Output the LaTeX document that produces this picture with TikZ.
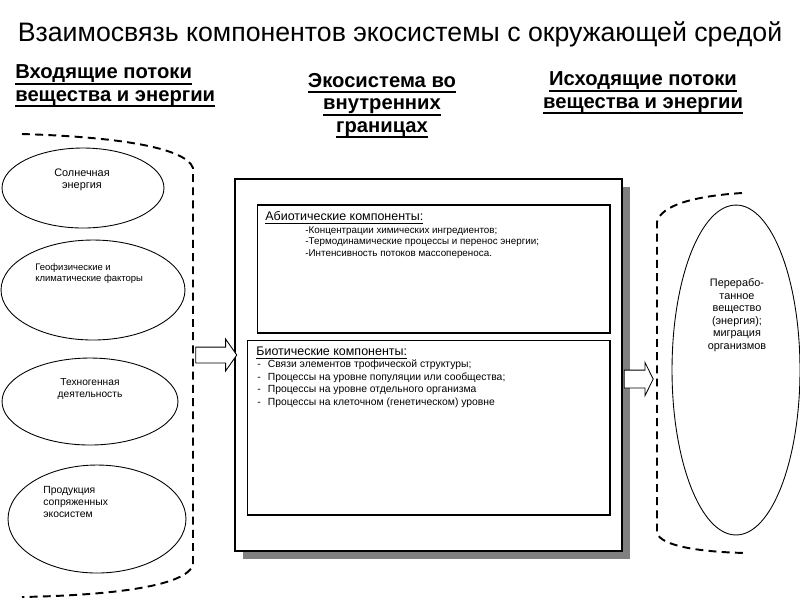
\documentclass[tikz,border=0pt]{standalone}
\usepackage{fontspec}
\setmainfont{Liberation Sans}
\usetikzlibrary{shapes.geometric, shapes.arrows, shadows, positioning}
\definecolor{shadowgray}{RGB}{128,128,128}
\tikzset{
  heading/.style={font=\fontsize{11.5}{12.8}\selectfont\bfseries, align=center, inner sep=0pt},
  oval/.style={ellipse, draw, line width=0.5pt, inner sep=0pt},
  ovaltext/.style={font=\fontsize{6}{7}\selectfont, inner sep=0pt},
  panel/.style={rectangle, draw, line width=0.6pt, inner sep=0pt},
  paneltext/.style={align=left, inner sep=0pt},
  fatarrow/.style={single arrow, draw, fill=white, line width=0.5pt,
    inner xsep=0pt, single arrow head indent=0pt},
  bracket/.style={line width=1.1pt, dash pattern=on 4.5pt off 3pt}
}
% underline: thickness, depth of rule bottom, text
\newcommand{\ulline}[3]{\setbox0\hbox{#3}\leavevmode\rlap{\raisebox{-#2}{\rule{\wd0}{#1}}}\box0}
\newcommand{\ulhead}[1]{\ulline{1.1pt}{3.6pt}{#1}}
\newcommand{\ulsmall}[1]{\ulline{0.4pt}{1.9pt}{#1}}

\begin{document}
\begin{tikzpicture}[x=0.02cm, y=-0.02cm]
  \useasboundingbox (0,0) rectangle (800,600);
  % Title and column headings (base = last line)
  \node[font=\fontsize{15.2}{18}\selectfont, inner sep=0pt, anchor=base] (title) at (400,41)
    {Взаимосвязь компонентов экосистемы с окружающей средой};
  \node[heading, align=left, anchor=base west] (inhead) at (15,101)
    {\ulhead{Входящие потоки}\\ \ulhead{вещества и энергии}};
  \node[heading, anchor=base] (ecohead) at (382,132)
    {\ulhead{Экосистема во}\\ \ulhead{внутренних}\\ \ulhead{границах}};
  \node[heading, anchor=base] (outhead) at (643,108)
    {\ulhead{Исходящие потоки}\\ \ulhead{вещества и энергии}};

  % Incoming flows
  \draw[bracket] (22,134) .. controls (120,137) and (186,148) .. (193,168) -- (193,565)
    .. controls (186,585) and (120,595) .. (22,597);
  \node[oval, minimum width=3.24cm, minimum height=1.6cm] (sun) at (83,188) {};
  \node[oval, minimum width=3.68cm, minimum height=2cm] (geo) at (93,290) {};
  \node[oval, minimum width=3.52cm, minimum height=1.74cm] (tech) at (90,401.5) {};
  \node[oval, minimum width=3.56cm, minimum height=2.16cm] (prod) at (97,519) {};
  \node[ovaltext, font=\fontsize{6.2}{6.8}\selectfont, align=center, anchor=base] (suntxt) at (82,188)
    {Солнечная\\энергия};
  \node[ovaltext, font=\fontsize{5.4}{6}\selectfont, align=left, anchor=base west] (geotxt) at (35,281)
    {Геофизические и\\климатические факторы};
  \node[ovaltext, font=\fontsize{5.8}{6.8}\selectfont, align=center, anchor=base] (techtxt) at (90,397)
    {Техногенная\\деятельность};
  \node[ovaltext, font=\fontsize{5.9}{6.8}\selectfont, align=left, anchor=base west] (prodtxt) at (43,517)
    {Продукция\\сопряженных\\экосистем};

  % Ecosystem
  \node[rectangle, draw, fill=white, line width=1.5pt, minimum width=7.74cm, minimum height=7.44cm,
    drop shadow={shadow xshift=0.16cm, shadow yshift=-0.16cm, fill=shadowgray, opacity=1}]
    (eco) at (428.5,365) {};
  \node[panel, minimum width=7.06cm, minimum height=2.56cm] (abio) at (433.5,269) {};
  \node[panel, minimum width=7.26cm, minimum height=3.5cm] (bio) at (428.5,427.5) {};
  \node[paneltext, font=\fontsize{7.1}{8}\selectfont, anchor=base west] (abiohead) at (265,220)
    {\ulsmall{Абиотические компоненты:}};
  \node[paneltext, font=\fontsize{5.6}{6.5}\selectfont, anchor=base west] (abioitems) at (305,256)
    {-Концентрации химических ингредиентов;\\
     -Термодинамические процессы и перенос энергии;\\
     -Интенсивность потоков массопереноса.};
  \node[paneltext, font=\fontsize{7.1}{8}\selectfont, anchor=base west] (biohead) at (256,355)
    {\ulsmall{Биотические компоненты:}};
  \node[paneltext, font=\fontsize{5.9}{7.1}\selectfont, anchor=base west] (bioitems) at (257,405)
    {-\hspace{4pt}Связи элементов трофической структуры;\\
     -\hspace{4pt}Процессы на уровне популяции или сообщества;\\
     -\hspace{4pt}Процессы на уровне отдельного организма\\
     -\hspace{4pt}Процессы на клеточном (генетическом) уровне};

  % Outgoing flows
  \draw[bracket] (742,193) .. controls (695,196) and (661,205) .. (657,222) -- (657,533)
    .. controls (661,546) and (700,552) .. (746,553);
  \node[oval, minimum width=2.56cm, minimum height=6.6cm] (outflow) at (736,370) {};
  \node[ovaltext, font=\fontsize{6.2}{7.1}\selectfont, align=center, anchor=base] (outtxt) at (737,349)
    {Перерабо-\\танное\\вещество\\(энергия);\\миграция\\организмов};

  % Flow arrows
  \node[fatarrow, inner ysep=0.15cm, single arrow head extend=0.16cm, single arrow tip angle=110,
    minimum height=0.82cm] (inarrow) at (213.5,355) {};
  \node[fatarrow, inner ysep=0.17cm, single arrow head extend=0.15cm, single arrow tip angle=127,
    minimum height=0.58cm] (outarrow) at (636.5,379) {};
\end{tikzpicture}
\end{document}
